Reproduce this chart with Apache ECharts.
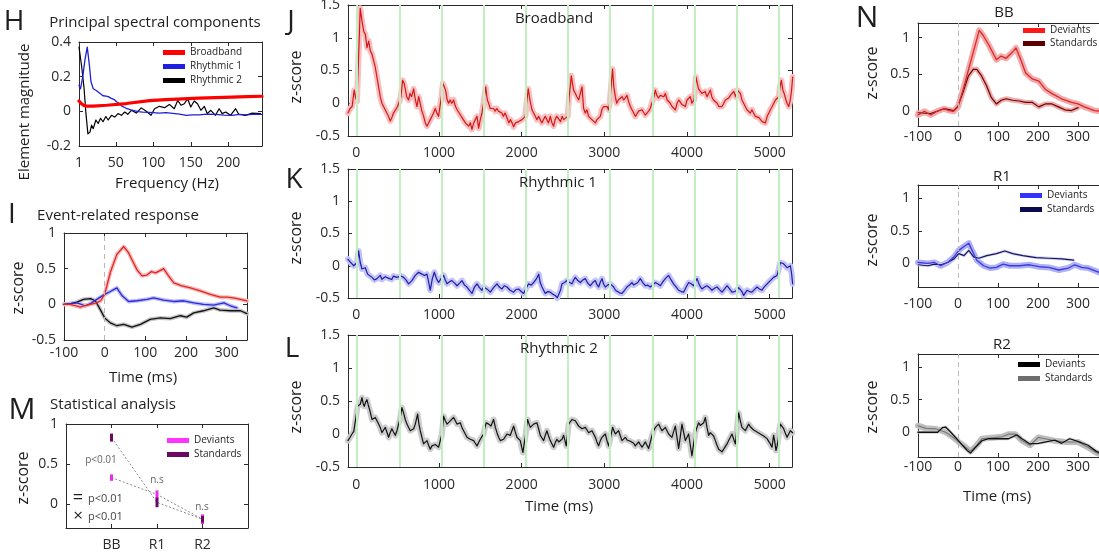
<!DOCTYPE html>
<html><head><meta charset="utf-8">
<script src="https://cdn.jsdelivr.net/npm/echarts@6/dist/echarts.min.js"></script>
<style>html,body{margin:0;padding:0;background:#fff}#c{width:1099px;height:559px}</style>
</head><body><div id="c"></div>
<script>
// ---------------- DATA ----------------
// H: principal spectral components  [frequency Hz, element magnitude]
const hBroadband = [[1,0.06],[4,0.045],[7,0.035],[11,0.03],[20,0.03],[38,0.035],[64,0.045],[95,0.062],[117,0.067],[139,0.072],[161,0.076],[183,0.079],[205,0.082],[225,0.085],[245,0.087]];
const hRhythmic1 = [[1,0.15],[3,0.13],[6,0.2],[9,0.3],[12,0.37],[15,0.26],[17,0.17],[20,0.13],[24,0.12],[27,0.11],[30,0.1],[33,0.09],[37,0.088],[40,0.085],[44,0.075],[48,0.068],[51,0.055],[55,0.045],[58,0.03],[62,0.022],[65,0.015],[70,0.008],[73,0.006],[80,-0.002],[86,-0.004],[95,-0.006],[108,-0.01],[117,-0.008],[126,-0.012],[135,-0.016],[144,-0.023],[152,-0.02],[161,-0.02],[172,-0.016],[183,-0.018],[194,-0.022],[205,-0.023],[215,-0.018],[225,-0.02],[235,-0.016],[245,-0.017]];
const hRhythmic2 = [[1,0.37],[4.5,0.26],[7.6,0.14],[10.3,-0.015],[12.9,-0.13],[15.6,-0.12],[17.8,-0.08],[20,-0.1],[23.5,-0.05],[26.6,-0.07],[29.7,-0.04],[33,-0.06],[36.8,-0.03],[39.9,-0.05],[44.3,-0.023],[48.7,-0.033],[53,-0.013],[57.5,-0.023],[62,-0.004],[66,-0.017],[70.8,0.006],[77.4,-0.01],[84,0.02],[90.6,0.0],[97,-0.023],[101.7,0.015],[108.3,0.029],[115,0.021],[121.5,0.04],[128,0.015],[132.6,0.063],[137,0.035],[141.4,0.044],[145.8,0.073],[150,0.025],[154.6,0.06],[159,0.044],[163.5,0.006],[168,0.029],[172,-0.013],[176.7,0.006],[183,-0.023],[187.8,0.015],[192,-0.013],[196.6,-0.004],[203,-0.023],[209.8,0.015],[214,-0.017],[223,-0.023],[232,-0.01],[243,-0.013]];

// I: event-related response [time ms, z-score]
const iBroadband = [[-100,0.0],[-85,0.0],[-70,-0.02],[-60,-0.04],[-50,-0.02],[-35,0.0],[-20,0.02],[-10,0.05],[0,0.14],[14,0.45],[30,0.7],[47,0.81],[59,0.72],[71,0.58],[80,0.48],[92,0.4],[104,0.41],[115,0.46],[125,0.44],[135,0.47],[145,0.5],[157,0.4],[170,0.3],[190,0.26],[211,0.23],[235,0.19],[260,0.14],[284,0.1],[301,0.1],[317,0.09],[334,0.07],[350,0.05]];
const iRhythmic1 = [[-100,0.0],[-84,0.01],[-68,0.02],[-48,-0.02],[-35,0.01],[-19,0.07],[0,0.14],[14,0.18],[30,0.23],[43,0.12],[59,0.04],[80,0.05],[104,0.07],[120,0.09],[145,0.06],[170,0.04],[194,0.05],[219,0.02],[243,0.0],[268,-0.01],[293,0.02],[309,-0.02],[325,-0.05]];
const iRhythmic2 = [[-100,0.0],[-84,0.01],[-68,0.03],[-52,0.07],[-35,0.08],[-23,0.05],[-11,-0.07],[0,-0.19],[14,-0.26],[30,-0.3],[47,-0.28],[67,-0.32],[88,-0.28],[112,-0.21],[137,-0.19],[161,-0.2],[186,-0.16],[202,-0.18],[219,-0.12],[243,-0.09],[268,-0.05],[284,-0.08],[309,-0.09],[334,-0.09],[350,-0.13]];

// M: statistical analysis
const mCategories = ['BB','R1','R2'];
const mPositions = [1,2,3];
const mDevMean = [0.33,0.12,-0.19], mDevLow = [0.29,0.07,-0.25], mDevHigh = [0.37,0.17,-0.13];
const mStdMean = [0.83,0.02,-0.19], mStdLow = [0.78,-0.04,-0.23], mStdHigh = [0.88,0.08,-0.15];

// J/K/L: stimulus onsets (ms)
const stimTimes = [10,520,1030,1540,2050,2560,3070,3580,4090,4600,5110];

// J: Broadband
const jBroadband = [[-100,-0.15],[-75,-0.08],[-50,-0.05],[-25,0.2],[-10,0.1],[8,0.03],[25,0.6],[48,1.45],[70,1.25],[90,1.1],[110,1.05],[130,0.85],[150,0.95],[170,0.8],[190,0.75],[210,0.65],[230,0.55],[250,0.4],[270,0.25],[290,0.1],[310,0.0],[330,-0.05],[350,-0.1],[371,-0.12],[390,-0.2],[411,-0.27],[430,-0.22],[450,-0.15],[472,-0.12],[500,-0.05],[520,-0.08],[540,0.1],[560,0.35],[580,0.3],[593,0.28],[610,0.1],[633,0.05],[650,0.15],[670,0.1],[694,0.22],[715,0.05],[734,-0.05],[755,0.1],[774,0.12],[794,-0.12],[815,-0.2],[835,-0.3],[855,-0.35],[875,-0.3],[895,-0.25],[915,-0.2],[935,-0.15],[956,-0.08],[975,-0.15],[995,-0.2],[1010,-0.22],[1030,0.1],[1048,0.3],[1065,0.25],[1080,0.2],[1100,0.05],[1117,0.0],[1135,0.05],[1155,0.0],[1177,0.05],[1200,-0.05],[1220,-0.1],[1238,-0.08],[1260,-0.18],[1280,-0.22],[1298,-0.25],[1320,-0.3],[1340,-0.28],[1359,-0.35],[1380,-0.3],[1399,-0.4],[1420,-0.3],[1440,-0.25],[1460,-0.2],[1480,-0.38],[1500,-0.25],[1520,-0.15],[1545,0.05],[1565,0.25],[1585,0.05],[1601,0.0],[1620,-0.08],[1640,-0.1],[1661,-0.08],[1680,-0.12],[1700,-0.08],[1720,-0.12],[1742,-0.1],[1760,-0.15],[1780,-0.2],[1800,-0.15],[1823,-0.22],[1845,-0.3],[1865,-0.25],[1885,-0.3],[1903,-0.36],[1925,-0.3],[1945,-0.32],[1965,-0.28],[1984,-0.3],[2005,-0.25],[2025,-0.22],[2044,-0.2],[2060,0.0],[2080,0.22],[2100,0.05],[2125,-0.1],[2145,-0.15],[2165,-0.2],[2185,-0.25],[2205,-0.2],[2225,-0.25],[2245,-0.3],[2266,-0.28],[2285,-0.2],[2305,-0.25],[2325,-0.3],[2347,-0.2],[2367,-0.3],[2387,-0.35],[2405,-0.25],[2425,-0.2],[2448,-0.22],[2470,-0.28],[2490,-0.2],[2508,-0.25],[2530,-0.22],[2556,-0.2],[2575,0.1],[2601,0.42],[2615,0.3],[2629,0.2],[2650,0.15],[2669,0.1],[2690,0.05],[2710,0.15],[2730,0.25],[2750,-0.08],[2770,-0.15],[2790,-0.1],[2810,-0.2],[2831,-0.22],[2850,-0.25],[2870,-0.28],[2891,-0.3],[2910,-0.25],[2930,-0.22],[2952,-0.2],[2970,-0.1],[2990,-0.05],[3012,-0.02],[3035,-0.05],[3050,-0.1],[3065,0.0],[3085,0.3],[3100,0.52],[3115,0.25],[3133,0.1],[3150,0.0],[3170,0.05],[3194,0.02],[3215,0.1],[3235,0.05],[3255,0.08],[3274,0.12],[3295,0.02],[3315,-0.05],[3335,-0.1],[3355,-0.15],[3375,-0.2],[3395,-0.22],[3415,-0.12],[3435,-0.15],[3456,-0.1],[3475,-0.12],[3495,-0.18],[3516,-0.15],[3535,-0.12],[3555,-0.08],[3577,-0.05],[3600,0.1],[3617,0.2],[3635,0.12],[3655,0.08],[3677,0.12],[3700,0.15],[3720,0.1],[3738,0.15],[3760,0.05],[3780,0.02],[3798,0.0],[3820,-0.05],[3840,-0.08],[3859,-0.1],[3880,0.0],[3900,0.05],[3919,0.02],[3940,-0.02],[3960,0.0],[3980,-0.05],[4000,0.05],[4020,0.08],[4040,0.1],[4060,0.0],[4085,0.05],[4109,0.4],[4125,0.3],[4140,0.22],[4161,0.2],[4180,0.15],[4200,0.12],[4220,0.18],[4242,0.1],[4262,0.12],[4282,0.2],[4300,0.1],[4320,0.05],[4343,0.02],[4365,0.0],[4385,-0.05],[4405,-0.02],[4423,-0.05],[4445,0.0],[4465,0.05],[4484,0.02],[4505,0.08],[4525,0.12],[4545,0.15],[4565,0.18],[4590,0.1],[4610,0.2],[4625,0.22],[4645,0.15],[4665,0.05],[4685,0.0],[4705,-0.05],[4725,-0.1],[4745,-0.12],[4766,-0.15],[4785,-0.1],[4805,-0.15],[4825,-0.2],[4847,-0.18],[4870,-0.22],[4890,-0.25],[4910,-0.28],[4930,-0.25],[4948,-0.3],[4970,-0.2],[4990,-0.15],[5008,-0.1],[5030,-0.05],[5050,0.0],[5070,0.05],[5089,0.05],[5110,0.1],[5125,0.25],[5141,0.35],[5160,0.2],[5175,0.15],[5190,0.08],[5210,0.0],[5230,-0.05],[5250,0.05],[5265,0.2],[5278,0.4]];

// K: Rhythmic 1
const kRhythmic1 = [[-100,0.1],[-75,0.06],[-52,0.03],[-30,0.0],[-12,-0.03],[10,0.05],[28,0.23],[48,0.05],[69,-0.05],[90,-0.02],[109,-0.03],[137,-0.13],[160,-0.15],[190,-0.18],[220,-0.22],[250,-0.2],[270,-0.17],[290,-0.15],[310,-0.21],[331,-0.2],[350,-0.17],[371,-0.16],[400,-0.2],[431,-0.21],[450,-0.16],[472,-0.13],[490,-0.18],[512,-0.2],[540,-0.16],[573,-0.18],[600,-0.22],[633,-0.28],[655,-0.25],[673,-0.23],[690,-0.2],[714,-0.15],[735,-0.12],[754,-0.1],[775,-0.12],[794,-0.13],[825,-0.15],[855,-0.13],[875,-0.25],[895,-0.38],[920,-0.2],[944,-0.1],[970,-0.2],[996,-0.26],[1025,-0.2],[1056,-0.15],[1077,-0.22],[1097,-0.28],[1125,-0.25],[1157,-0.23],[1190,-0.27],[1218,-0.31],[1250,-0.27],[1278,-0.23],[1310,-0.3],[1339,-0.33],[1370,-0.38],[1399,-0.43],[1430,-0.33],[1460,-0.28],[1490,-0.34],[1520,-0.38],[1540,-0.33],[1560,-0.31],[1590,-0.37],[1621,-0.41],[1660,-0.34],[1702,-0.28],[1730,-0.33],[1762,-0.36],[1790,-0.31],[1823,-0.33],[1860,-0.38],[1903,-0.41],[1930,-0.37],[1963,-0.36],[1995,-0.4],[2024,-0.43],[2055,-0.35],[2085,-0.28],[2115,-0.3],[2145,-0.26],[2180,-0.2],[2206,-0.13],[2225,-0.26],[2246,-0.33],[2266,-0.38],[2286,-0.43],[2315,-0.4],[2347,-0.41],[2375,-0.44],[2407,-0.46],[2430,-0.5],[2447,-0.51],[2470,-0.38],[2488,-0.28],[2520,-0.26],[2548,-0.23],[2580,-0.26],[2609,-0.28],[2630,-0.22],[2649,-0.18],[2680,-0.23],[2710,-0.26],[2740,-0.22],[2770,-0.2],[2800,-0.27],[2831,-0.31],[2860,-0.26],[2891,-0.23],[2910,-0.29],[2931,-0.33],[2950,-0.26],[2972,-0.2],[2990,-0.28],[3012,-0.33],[3040,-0.3],[3072,-0.28],[3095,-0.31],[3113,-0.33],[3135,-0.38],[3153,-0.41],[3185,-0.42],[3214,-0.43],[3245,-0.38],[3274,-0.33],[3305,-0.3],[3335,-0.26],[3355,-0.3],[3375,-0.33],[3405,-0.26],[3435,-0.2],[3465,-0.26],[3496,-0.31],[3526,-0.3],[3556,-0.33],[3585,-0.3],[3617,-0.26],[3645,-0.28],[3677,-0.31],[3707,-0.25],[3738,-0.2],[3758,-0.17],[3778,-0.15],[3808,-0.22],[3838,-0.28],[3870,-0.33],[3899,-0.38],[3930,-0.4],[3959,-0.41],[3990,-0.33],[4020,-0.26],[4050,-0.28],[4080,-0.31],[4100,-0.25],[4121,-0.2],[4150,-0.3],[4181,-0.36],[4212,-0.33],[4242,-0.31],[4272,-0.34],[4302,-0.38],[4332,-0.35],[4363,-0.33],[4393,-0.37],[4423,-0.41],[4455,-0.36],[4484,-0.31],[4515,-0.36],[4544,-0.41],[4575,-0.4],[4605,-0.38],[4625,-0.34],[4645,-0.31],[4665,-0.4],[4685,-0.46],[4705,-0.42],[4726,-0.38],[4756,-0.4],[4786,-0.41],[4815,-0.37],[4847,-0.33],[4877,-0.36],[4907,-0.38],[4927,-0.34],[4947,-0.31],[4978,-0.27],[5008,-0.23],[5028,-0.2],[5048,-0.18],[5070,-0.17],[5089,-0.15],[5110,-0.05],[5129,0.05],[5150,0.04],[5169,0.03],[5190,0.0],[5210,-0.03],[5230,-0.01],[5250,0.0],[5265,-0.12],[5278,-0.28]];

// L: Rhythmic 2
const lRhythmic2 = [[-100,-0.1],[-75,-0.05],[-52,0.0],[-30,0.04],[-12,0.07],[16,0.42],[30,0.4],[48,0.45],[69,0.55],[84,0.46],[97,0.42],[112,0.48],[129,0.52],[145,0.44],[161,0.37],[175,0.3],[190,0.22],[210,0.2],[230,0.25],[250,0.2],[270,0.15],[290,0.1],[310,0.02],[330,0.06],[351,0.1],[370,0.03],[391,-0.05],[410,0.02],[431,0.08],[450,0.03],[472,-0.02],[492,0.05],[512,0.15],[532,0.25],[552,0.4],[572,0.32],[593,0.22],[613,0.15],[633,0.1],[653,0.05],[673,0.02],[694,0.08],[714,0.15],[742,0.3],[758,0.15],[774,0.05],[794,-0.05],[814,-0.15],[835,-0.12],[855,-0.1],[875,-0.17],[895,-0.23],[915,-0.18],[935,-0.15],[956,-0.16],[976,-0.18],[996,-0.2],[1016,-0.23],[1036,0.0],[1056,0.27],[1077,0.2],[1097,0.15],[1117,0.17],[1137,0.2],[1157,0.22],[1177,0.25],[1198,0.2],[1218,0.15],[1238,0.12],[1258,0.17],[1278,0.1],[1298,0.05],[1319,0.0],[1339,-0.05],[1359,-0.06],[1379,-0.08],[1399,-0.09],[1419,-0.1],[1440,-0.14],[1460,-0.18],[1480,-0.13],[1500,-0.08],[1520,-0.04],[1540,0.0],[1556,0.1],[1572,0.17],[1587,0.16],[1601,0.15],[1615,0.13],[1629,0.12],[1645,0.17],[1661,0.22],[1682,0.1],[1702,0.02],[1722,-0.05],[1742,-0.1],[1762,-0.09],[1782,-0.08],[1803,-0.04],[1823,0.0],[1843,-0.01],[1863,-0.02],[1883,0.05],[1903,0.12],[1923,0.03],[1943,-0.05],[1963,-0.08],[1984,-0.1],[2000,-0.2],[2016,-0.28],[2030,-0.15],[2044,-0.05],[2058,0.1],[2072,0.22],[2090,0.15],[2105,0.1],[2125,0.12],[2145,0.15],[2165,0.16],[2185,0.17],[2205,0.08],[2226,-0.02],[2246,-0.06],[2266,-0.1],[2286,-0.02],[2306,0.05],[2326,-0.03],[2347,-0.1],[2367,-0.15],[2387,-0.2],[2407,-0.13],[2427,-0.08],[2448,-0.12],[2468,-0.15],[2488,-0.08],[2508,-0.02],[2524,-0.1],[2540,-0.18],[2554,-0.02],[2568,0.15],[2590,0.18],[2609,0.22],[2629,0.21],[2649,0.2],[2669,0.16],[2689,0.12],[2710,0.1],[2730,0.08],[2750,0.09],[2770,0.1],[2790,0.06],[2810,0.02],[2830,0.04],[2851,0.05],[2871,0.0],[2891,-0.05],[2911,-0.12],[2931,-0.18],[2952,-0.1],[2972,-0.05],[2992,-0.02],[3012,0.0],[3032,-0.1],[3052,-0.18],[3075,-0.05],[3101,0.1],[3117,0.05],[3133,0.0],[3153,0.03],[3173,0.05],[3194,-0.03],[3214,-0.1],[3234,-0.07],[3254,-0.05],[3274,-0.09],[3294,-0.12],[3315,-0.11],[3335,-0.1],[3355,-0.14],[3375,-0.18],[3395,-0.15],[3415,-0.12],[3435,-0.16],[3456,-0.2],[3476,-0.16],[3496,-0.12],[3516,-0.17],[3536,-0.22],[3557,-0.12],[3577,-0.02],[3597,0.05],[3617,0.1],[3637,0.13],[3657,0.15],[3677,0.1],[3697,0.05],[3718,0.08],[3738,0.1],[3758,0.05],[3778,0.0],[3798,-0.03],[3818,-0.05],[3839,0.04],[3859,0.12],[3879,-0.05],[3899,-0.22],[3919,-0.04],[3939,0.15],[3960,0.02],[3980,-0.1],[4000,-0.05],[4020,0.0],[4040,-0.17],[4060,-0.33],[4080,-0.15],[4101,0.02],[4121,0.1],[4141,0.17],[4161,0.13],[4181,0.1],[4202,0.17],[4222,0.25],[4242,0.1],[4262,-0.02],[4282,0.02],[4302,0.05],[4322,-0.03],[4343,-0.1],[4363,-0.17],[4383,-0.23],[4403,-0.25],[4423,-0.27],[4444,-0.23],[4464,-0.2],[4484,-0.15],[4504,-0.1],[4524,-0.05],[4544,0.0],[4565,-0.08],[4585,-0.15],[4605,0.1],[4625,0.32],[4645,0.2],[4665,0.1],[4685,0.08],[4705,0.05],[4726,0.1],[4746,0.15],[4766,0.11],[4786,0.08],[4806,0.06],[4826,0.05],[4847,0.03],[4867,0.02],[4887,0.0],[4907,-0.02],[4927,-0.03],[4947,-0.05],[4968,-0.07],[4988,-0.1],[5008,-0.15],[5028,-0.2],[5048,-0.02],[5062,-0.12],[5076,-0.25],[5090,-0.18],[5101,-0.1],[5115,0.05],[5129,0.15],[5149,0.12],[5169,0.08],[5190,0.01],[5210,-0.05],[5230,0.0],[5250,0.05],[5265,0.03],[5278,0.02]];

// N: deviants vs standards  [time ms, z-score]
const nBBDeviants = [[-100,-0.05],[-84,0.0],[-68,-0.05],[-52,0.0],[-35,0.035],[-23,0.01],[-11,0.0],[0,0.06],[14,0.32],[30,0.64],[43,0.9],[53,1.1],[63,1.03],[79,0.88],[96,0.7],[108,0.75],[120,0.72],[137,0.81],[145,0.86],[157,0.7],[169,0.52],[186,0.44],[202,0.41],[218,0.3],[235,0.24],[259,0.17],[284,0.12],[300,0.1],[316,0.06],[341,0.01],[360,0.0]];
const nBBStandards = [[-100,-0.02],[-68,-0.03],[-35,0.035],[-11,0.01],[0,0.07],[14,0.28],[26,0.48],[38,0.57],[47,0.57],[59,0.48],[71,0.35],[83,0.19],[96,0.1],[108,0.15],[120,0.17],[137,0.15],[153,0.14],[169,0.12],[186,0.12],[202,0.06],[218,0.1],[235,0.1],[251,0.06],[267,0.02],[284,0.01],[300,0.05]];
const nR1Deviants = [[-100,0.015],[-75,0.0],[-59,0.015],[-43,-0.035],[-26,0.015],[-10,0.1],[2,0.2],[15,0.26],[27,0.31],[35,0.2],[47,0.05],[64,-0.035],[80,-0.07],[96,-0.06],[113,-0.01],[129,-0.035],[154,-0.035],[178,-0.02],[203,-0.05],[227,-0.06],[252,-0.1],[276,-0.07],[292,-0.02],[309,-0.06],[325,-0.07],[346,-0.12],[360,-0.15]];
const nR1Standards = [[-100,-0.02],[-75,-0.035],[-59,-0.01],[-43,-0.02],[-26,0.015],[-10,0.07],[2,0.15],[15,0.12],[27,0.2],[39,0.1],[52,0.08],[72,0.12],[96,0.15],[117,0.19],[137,0.15],[162,0.12],[195,0.09],[227,0.08],[260,0.07],[289,0.05]];
const nR2Deviants = [[-100,0.0],[-80,0.0],[-51,0.0],[-39,0.07],[-31,0.08],[-18,0.0],[-6,-0.08],[11,-0.2],[23,-0.28],[31,-0.32],[44,-0.23],[60,-0.13],[77,-0.1],[102,-0.1],[126,-0.1],[147,-0.04],[160,-0.1],[180,-0.18],[201,-0.17],[226,-0.14],[242,-0.12],[259,-0.17],[279,-0.1],[300,-0.14],[325,-0.2],[345,-0.29],[360,-0.33]];
const nR2Standards = [[-100,0.1],[-80,0.06],[-55,0.05],[-31,0.0],[-14,-0.07],[2,-0.15],[19,-0.23],[31,-0.29],[44,-0.22],[60,-0.1],[77,-0.09],[110,-0.07],[126,-0.03],[143,-0.03],[160,-0.13],[180,-0.2],[201,-0.08],[217,-0.1],[242,-0.13],[267,-0.15],[300,-0.15],[325,-0.23],[345,-0.31],[360,-0.35]];

// tick values
const hXTicks = [1,50,100,150,200], hYTicks = [-0.2,0,0.2,0.4];
const iXTicks = [-100,0,100,200,300], iYTicks = [-0.5,0,0.5,1];
const mYTicks = [0,0.5,1];
const jXTicks = [0,1000,2000,3000,4000,5000], jYTicks = [-0.5,0,0.5,1,1.5];
const nXTicks = [-100,0,100,200,300,400], nYTicks = [0,0.5,1];

// ---------------- BUILD ----------------
const FONT = "'Open Sans', 'Noto Sans', sans-serif";
const AX = '#2a2a2a';
const grids = [], xAxes = [], yAxes = [], series = [], graphics = [], legends = [];
const plain = v => String(v);

function panel(g, xr, xt, yr, yt, o) {
  o = o || {};
  const gi = grids.length;
  grids.push(Object.assign({outerBoundsMode:'none', containLabel:false}, g));
  const tick = (vals) => ({show:true, inside:true, length:4, customValues:vals, lineStyle:{color:AX, width:1}});
  const line = {show:true, onZero:false, lineStyle:{color:AX, width:1}};
  const xl = {customValues:xt, margin:o.xm == null ? 9 : o.xm, fontSize:14, color:AX, fontFamily:FONT, formatter: o.xf || plain, hideOverlap:false};
  xAxes.push({gridIndex:gi, type:'value', min:xr[0], max:xr[1], position:'bottom', axisLine:line, axisTick:tick(xt), axisLabel:xl, splitLine:{show:false}});
  xAxes.push({gridIndex:gi, type:'value', min:xr[0], max:xr[1], position:'top', axisLine:line, axisTick:tick(xt), axisLabel:{show:false}, splitLine:{show:false}});
  yAxes.push({gridIndex:gi, type:'value', min:yr[0], max:yr[1], position:'left', axisLine:line, axisTick:tick(yt), axisLabel:{customValues:yt, margin:o.ym == null ? 8 : o.ym, fontSize:14, color:AX, fontFamily:FONT, formatter:plain}, splitLine:{show:false}});
  yAxes.push({gridIndex:gi, type:'value', min:yr[0], max:yr[1], position:'right', axisLine:line, axisTick:tick(yt), axisLabel:{show:false}, splitLine:{show:false}});
  return gi;
}
function ln(gi, data, color, width, z, name, extra) {
  const s = {type:'line', xAxisIndex:2*gi, yAxisIndex:2*gi, data:data, symbol:'none', showSymbol:false,
    lineStyle:{color:color, width:width, join:'round', cap:'round'}, itemStyle:{color:color}, z:z, silent:true, animation:false, clip:true};
  if (name) s.name = name;
  return Object.assign(s, extra || {});
}
function vmark(vals, color, type, width) {
  return {silent:true, symbol:['none','none'], label:{show:false}, animation:false,
    lineStyle:{color:color, type:type, width:width}, data: vals.map(v => ({xAxis:v}))};
}
function txt(x, y, s, size, o) {
  o = o || {};
  return {type:'text', x:x, y:y, rotation:o.rot || 0, z:100, silent:true,
    style:{text:s, fill:o.color || '#1e1e1e', font: (o.weight||'normal') + ' ' + size + 'px ' + FONT, textAlign:o.align || 'center', textVerticalAlign:'middle', align:o.align || 'center', verticalAlign:'middle'}};
}
function legend(names, colors, left, top, gap, fs) {
  legends.push({left:left, top:top, orient:'vertical', itemWidth:22, itemHeight:5, itemGap:gap, icon:'rect', selectedMode:false, padding:0,
    textStyle:{fontSize:fs, color:'#1e1e1e', fontFamily:FONT, lineHeight:fs+1},
    formatter: n => n.split('|')[1],
    data: names.map((n,i) => ({name:n, itemStyle:{color:colors[i]}}))});
}

// H
const gH = panel({left:79, top:42, width:183, height:104}, [1,245], hXTicks, [-0.2,0.4], hYTicks, {xm:10});
series.push(ln(gH, hRhythmic2, '#000000', 1.2, 3, 'H|Rhythmic 2'));
series.push(ln(gH, hRhythmic1, '#1f1fd8', 1.3, 4, 'H|Rhythmic 1'));
series.push(ln(gH, hBroadband, '#ff0000', 3.2, 5, 'H|Broadband'));
legend(['H|Broadband','H|Rhythmic 1','H|Rhythmic 2'], ['#ff0000','#1f1fe0','#000000'], 163, 47, 3, 10);

// I
const gI = panel({left:64, top:233, width:183, height:107}, [-100,350], iXTicks, [-0.5,1], iYTicks, {xm:6});
series.push(ln(gI, iRhythmic2, '#c4c4c4', 4, 2, null, {markLine: vmark([0], '#b8b8b8', [5,4], 1)}));
series.push(ln(gI, iRhythmic2, '#111111', 1.3, 4));
series.push(ln(gI, iRhythmic1, '#bdbdf5', 4, 2));
series.push(ln(gI, iRhythmic1, '#2a2ad8', 1.3, 4));
series.push(ln(gI, iBroadband, '#f5b8b8', 4, 2));
series.push(ln(gI, iBroadband, '#e02828', 1.3, 4));

// M
const gM = panel({left:66, top:424, width:182, height:104}, [0,4], mPositions, [-0.3,1], mYTicks, {xm:10, xf: v => mCategories[v-1]});
function errBars(gi, low, high, color, name, z) {
  return {type:'custom', name:name, xAxisIndex:2*gi, yAxisIndex:2*gi, z:z, silent:true, animation:false,
    itemStyle:{color:color},
    data: mPositions.map((x,i) => [x, low[i], high[i]]),
    encode:{x:0, y:[1,2]},
    renderItem: (p, api) => {
      const a = api.coord([api.value(0), api.value(1)]);
      const b = api.coord([api.value(0), api.value(2)]);
      return {type:'line', shape:{x1:a[0], y1:a[1], x2:b[0], y2:b[1]}, style:{stroke:color, lineWidth:3}};
    }};
}
series.push(ln(gM, mPositions.map((x,i)=>[x, mDevMean[i]]), '#8a8a8a', 1, 2, null, {lineStyle:{color:'#8a8a8a', width:1, type:[2,2]}}));
series.push(ln(gM, mPositions.map((x,i)=>[x, mStdMean[i]]), '#8a8a8a', 1, 2, null, {lineStyle:{color:'#8a8a8a', width:1, type:[2,2]}}));
series.push(errBars(gM, mDevLow, mDevHigh, '#f028f0', 'M|Deviants', 4));
series.push(errBars(gM, mStdLow, mStdHigh, '#6a0a62', 'M|Standards', 5));
legend(['M|Deviants','M|Standards'], ['#ff33ff','#6a0a62'], 167, 435, 3, 10);

// J, K, L
function longPanel(top, height, data, band, color, xm) {
  const g = panel({left:348, top:top, width:444, height:height}, [-100,5270], jXTicks, [-0.5,1.5], jYTicks, {xm:xm});
  series.push(ln(g, data, '#ffffff', 1, 1, null, {lineStyle:{opacity:0}, markLine: vmark(stimTimes, '#c2eec2', 'solid', 2)}));
  series.push(ln(g, data, band, 6, 2));
  series.push(ln(g, data, color, 1.2, 3));
  return g;
}
longPanel(5, 131, jBroadband, '#f8c0c0', '#d41616', 10);
longPanel(169, 129, kRhythmic1, '#c4c4f7', '#1c1ca8', 10);
longPanel(335, 132, lRhythmic2, '#cdcdcd', '#111111', 11);

// N
const gNB = panel({left:918, top:23, width:200, height:103}, [-100,400], nXTicks, [-0.2,1.2], nYTicks, {xm:4});
series.push(ln(gNB, nBBStandards, '#f4aaaa', 5, 2, null, {markLine: vmark([0], '#b8b8b8', [5,4], 1)}));
series.push(ln(gNB, nBBDeviants, '#f4aaaa', 6, 2));
series.push(ln(gNB, nBBStandards, '#5a0a0a', 1.2, 4, 'NB|Standards'));
series.push(ln(gNB, nBBDeviants, '#d82a2a', 1.3, 4, 'NB|Deviants'));
legend(['NB|Deviants','NB|Standards'], ['#ff1a1a','#5c0000'], 1023, 25, 2, 10);

const gN1 = panel({left:918, top:185, width:200, height:102}, [-100,400], nXTicks, [-0.36,1.2], nYTicks, {xm:10});
series.push(ln(gN1, nR1Deviants, '#b0b0f4', 6, 2, null, {markLine: vmark([0], '#b8b8b8', [5,4], 1)}));
series.push(ln(gN1, nR1Standards, '#d4d4f8', 3, 2));
series.push(ln(gN1, nR1Standards, '#15155a', 1.2, 4, 'N1|Standards'));
series.push(ln(gN1, nR1Deviants, '#3a3ae0', 1.3, 4, 'N1|Deviants'));
legend(['N1|Deviants','N1|Standards'], ['#3333ff','#0a0a50'], 1020, 190, 3, 10);

const gN2 = panel({left:918, top:354, width:200, height:103}, [-100,400], nXTicks, [-0.38,1.2], nYTicks, {xm:3});
series.push(ln(gN2, nR2Standards, '#bdbdbd', 6, 2, null, {markLine: vmark([0], '#b8b8b8', [5,4], 1)}));
series.push(ln(gN2, nR2Deviants, '#d0d0d0', 3, 2));
series.push(ln(gN2, nR2Standards, '#7a7a7a', 1.2, 3, 'N2|Standards'));
series.push(ln(gN2, nR2Deviants, '#111111', 1.3, 4, 'N2|Deviants'));
legend(['N2|Deviants','N2|Standards'], ['#000000','#6e6e6e'], 1018, 359, 3, 10);

// texts
const R = Math.PI / 2;
graphics.push(
  txt(14, 22, 'H', 28), txt(155, 23, 'Principal spectral components', 15),
  txt(25, 112, 'Element magnitude', 15, {rot:R}), txt(167, 184, 'Frequency (Hz)', 15),
  txt(12, 215, 'I', 28), txt(118, 216, 'Event-related response', 15),
  txt(18, 288, 'z-score', 16, {rot:R}), txt(143, 378, 'Time (ms)', 15),
  txt(22, 410, 'M', 30), txt(113, 405, 'Statistical analysis', 15),
  txt(23, 478, 'z-score', 16, {rot:R}),
  txt(101, 460, 'p<0.01', 10, {color:'#666'}), txt(157, 480, 'n.s', 10, {color:'#666'}), txt(202, 507, 'n.s', 10, {color:'#666'}),
  txt(78, 498, '=', 18), txt(88, 499, 'p<0.01', 11, {align:'left', color:'#444'}),
  txt(78, 516, '\u00d7', 17), txt(88, 517, 'p<0.01', 11, {align:'left', color:'#444'}),
  txt(291, 22, 'J', 28), txt(554, 19, 'Broadband', 15), txt(296, 77, 'z-score', 16, {rot:R}),
  txt(294, 180, 'K', 28), txt(558, 183, 'Rhythmic 1', 15), txt(296, 238, 'z-score', 16, {rot:R}),
  txt(292, 349, 'L', 28), txt(559, 349, 'Rhythmic 2', 15), txt(296, 407, 'z-score', 16, {rot:R}),
  txt(559, 507, 'Time (ms)', 15),
  txt(867, 18, 'N', 30), txt(1004, 13, 'BB', 15), txt(872, 73, 'z-score', 16, {rot:R}),
  txt(1002, 177, 'R1', 15), txt(872, 240, 'z-score', 16, {rot:R}),
  txt(1002, 345, 'R2', 15), txt(872, 407, 'z-score', 16, {rot:R}),
  txt(997, 497, 'Time (ms)', 15)
);

const chart = echarts.init(document.getElementById('c'), null, {renderer:'canvas', width:1099, height:559});
chart.setOption({
  animation:false, backgroundColor:'#ffffff',
  textStyle:{fontFamily:FONT},
  grid:grids, xAxis:xAxes, yAxis:yAxes, series:series, legend:legends, graphic:graphics
});
</script></body></html>
